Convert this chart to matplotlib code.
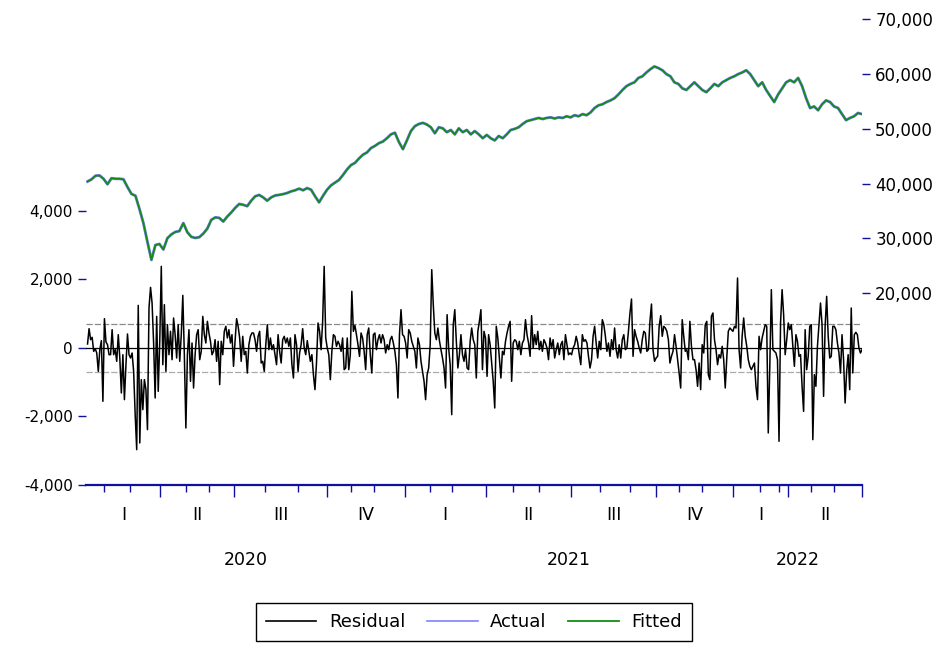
import numpy as np
import matplotlib
matplotlib.use("Agg")
import matplotlib.pyplot as plt
from matplotlib.lines import Line2D
from matplotlib.ticker import FuncFormatter, FixedLocator
from matplotlib.transforms import blended_transform_factory

plt.rcParams["font.family"] = ["DejaVu Sans"]
plt.rcParams["axes.unicode_minus"] = False

# ---------------------------------------------------------------- data
# Regression residuals, one value per trading day (left axis)
residual = [
    117, 564, 243, 311, -97, -20, -146, -681, -49, 214, -1557, 856, 175, 97, -195,
    -195, 535, -195, -49, -389, 389, -292, -1313, -195, -1508, -487, 409, -195, -292, -146,
    -681, -1946, -2968, 1245, -2773, -924, -1800, -924, -1216, -2384, 1168, 1771, 1314, 146, -1459,
    924, -1265, 195, 2384, -487, 1265, -681, 681, -195, 487, -341,
    876, 389, -292, 681, -389, 389, 1537, -195, -2335, -195, 535, -973, 146, -1168, -195,
    389, 535, -341, -97, 924, 389, 146, 778, 438, 195, -195, -97, 243, -389, 195,
    -1070, 195, -195, 487, 633, 292, 535, 146, 389, -535, 195, 856, 633, 292, -389,
    341, -195, -97, -730, 97, 341, 438, 438, 243, -97, 341,
    487, -438, -389, -681, 97, 681, -49, 292, -49, 97, -195, -487, 389, -97, -438,
    243, 341, 146, 292, 49, 292, -487, -876, 389, 97, -681, -146, 97, 564, 0,
    -195, 214, -97, -389, -195, -778, -1216, -438, 730, 487, -49, 778, 2384, 292, 0,
    -195, -924, -97, 389, 341, 49, 195, 97, -97, 292, -632,
    -584, 292, -632, -195, 1654, 487, 661, 389, 97, -243, 438, 292, -97, -632, 389,
    584, -195, -730, 389, 438, -49, 243, 389, 146, 389, 243, -146, 97, -49, 243,
    341, 146, -97, -487, -1459, 389, 1119, 389, 341, 146, -292, 535, 438, 195, 49,
    -97, -584, 292, 97, -389, -681, -973, -1508, -778, -584, 97,
    2287, 1265, 438, 243, 584, 214, -49, -292, -584, -1168, 973, 0, -487, -1946, 681,
    1119, 195, -584, -195, 389, -195, -389, -49, -584, -632, 195, 584, 243, 97, -876,
    487, 778, 1119, -632, 487, 292, -827, 389, 97, -438, -973, -1751, 633, 292, -292,
    -876, -97, -195, 195, 438, 633, 778, -973, 146, 243, 195,
    -49, 195, -195, 146, 243, 827, 389, 146, -243, 944, 0, 389, 97, 487, -49,
    195, -97, 243, 146, 0, -341, 292, 0, 243, -292, -49, 146, -195, 97, 195,
    -341, 389, 97, -195, -146, -195, 0, 97, 341, 146, -195, -487, 389, 195, 243,
    146, -243, -584, -341, 341, 632, 146, -292, 195, -49, 827,
    681, 341, -97, 146, -243, 243, -49, 584, -49, -292, 97, -292, 243, 389, -49,
    0, 487, 1022, 1430, -243, 535, 341, 195, 0, -146, 243, 487, 438, -97, -49,
    778, 1284, -49, -389, -292, -243, 632, 944, 341, 632, 584, 487, 243, -438, -243,
    -97, 389, 49, -341, -730, -1168, 827, 341, -97, -49, -341,
    778, 49, -341, -341, -632, -1119, -438, -1216, 97, -146, 681, 778, -778, -924, 924,
    1022, 243, -49, -487, -195, -292, 49, -341, -1168, -292, 487, 584, 535, 487, 632,
    584, 2043, -49, -584, 341, 876, 341, 49, -341, -535, -632, -535, -438, -1119, -1508,
    341, -49, 292, 487, 681, 632, -2481, -535, 1703, -49, -97,
    -146, -341, -2724, 730, 1703, 973, -195, 243, 730, 535, 681, 49, -535, 389, 195,
    -243, -195, -1119, -1849, 535, -632, -243, 632, 681, -2676, -778, -1119, 49, 681, 1314,
    681, -1411, 632, 1508, 341, -292, -243, 632, 632, 535, 146, -146, -730, 389, -341,
    -1605, -681, -195, -1216, 1168, -730, 389, 457, 389, 0, -146, -49,
]

# Index level, sampled every other trading day (right axis)
actual = [
    40400, 40800, 41450, 41500, 40900, 39900, 41000, 40900, 40900, 40800,
    39400, 38140, 37800, 35400, 32800, 29400, 26100, 28800, 29000, 28000,
    30050, 30750, 31200, 31350, 32800, 31150, 30300, 30100, 30240, 30900,
    31800, 33400, 33850, 33760, 33100, 34000, 34750, 35600, 36300, 36150,
    35900, 36900, 37700, 37950, 37500, 36900, 37500, 37850, 37960, 38100,
    38300, 38600, 38800, 39100, 38800, 39200, 38900, 37700, 36600, 37800,
    38900, 39700, 40200, 40700, 41600, 42600, 43400, 43800, 44600, 45300,
    45700, 46500, 46900, 47400, 47700, 48300, 49000, 49300, 47600, 46300,
    47900, 49600, 50500, 50900, 51100, 50800, 50300, 49200, 50300, 50100,
    49400, 49800, 49000, 50100, 49400, 49800, 49000, 49600, 49000, 48300,
    48900, 48300, 47900, 48700, 48300, 49000, 49800, 50000, 50300, 50900,
    51400, 51600, 51800, 52000, 51800, 52000, 52100, 51900, 52100, 52000,
    52300, 52100, 52500, 52300, 52700, 52500, 53000, 53800, 54300, 54500,
    54900, 55200, 55600, 56300, 57100, 57800, 58200, 58500, 59300, 59600,
    60300, 60900, 61400, 61100, 60700, 60000, 59600, 58500, 58200, 57400,
    57100, 57800, 58500, 57800, 57100, 56700, 57400, 58200, 57800, 58500,
    58900, 59300, 59600, 60000, 60300, 60700, 60000, 58900, 57800, 58500,
    57100, 56000, 54900, 56300, 57400, 58500, 58900, 58500, 59300, 57800,
    55600, 53800, 54100, 53400, 54500, 55200, 54900, 54100, 53800, 52700,
    51600, 52000, 52300, 52900, 52700,
]
fitted = [
    40400, 40800, 41450, 41500, 40900, 39900, 41000, 40900, 40900, 40800,
    39400, 38140, 37800, 35400, 32800, 29400, 26100, 28800, 29000, 28000,
    30050, 30750, 31200, 31350, 32800, 31150, 30300, 30100, 30240, 30900,
    31800, 33400, 33850, 33760, 33100, 34000, 34750, 35600, 36300, 36150,
    35900, 36900, 37700, 37950, 37500, 36900, 37500, 37850, 37960, 38100,
    38300, 38600, 38800, 39100, 38800, 39200, 38900, 37700, 36600, 37800,
    38900, 39700, 40200, 40700, 41600, 42600, 43400, 43800, 44600, 45300,
    45700, 46500, 46900, 47400, 47700, 48300, 49000, 49300, 47600, 46300,
    47900, 49600, 50500, 50900, 51100, 50800, 50300, 49200, 50300, 50100,
    49400, 49800, 49000, 50100, 49400, 49800, 49000, 49600, 49000, 48300,
    48900, 48300, 47900, 48700, 48300, 49000, 49800, 50000, 50300, 50900,
    51400, 51600, 51800, 52000, 51800, 52000, 52100, 51900, 52100, 52000,
    52300, 52100, 52500, 52300, 52700, 52500, 53000, 53800, 54300, 54500,
    54900, 55200, 55600, 56300, 57100, 57800, 58200, 58500, 59300, 59600,
    60300, 60900, 61400, 61100, 60700, 60000, 59600, 58500, 58200, 57400,
    57100, 57800, 58500, 57800, 57100, 56700, 57400, 58200, 57800, 58500,
    58900, 59300, 59600, 60000, 60300, 60700, 60000, 58900, 57800, 58500,
    57100, 56000, 54900, 56300, 57400, 58500, 58900, 58500, 59300, 57800,
    55600, 53800, 54100, 53400, 54500, 55200, 54900, 54100, 53800, 52700,
    51600, 52000, 52300, 52900, 52700,
]

std_error = 707

# Calendar layout in observation units
month_starts = [11.0, 27.5, 63.9, 78.8, 115.8, 136.7, 171.4, 186.3, 223.0, 237.5,
                277.2, 293.8, 333.5, 353.3, 384.7, 400.2, 437.6, 449.8, 470.7, 485.6]
quarter_bounds = [0, 47.3, 95.3, 155.8, 206.4, 259.0, 314.6, 370.2, 420.1, 455.8, 504]
quarter_labels = ["I", "II", "III", "IV", "I", "II", "III", "IV", "I", "II"]
year_bounds = [0, 206.4, 420.1, 504]
year_labels = ["2020", "2021", "2022"]

left_ticks = [-4000, -2000, 0, 2000, 4000]
right_ticks = [20000, 30000, 40000, 50000, 60000, 70000]

# ---------------------------------------------------------------- styles
AXIS_BLUE = "#1010a0"
RES_COLOR = "black"
ACT_COLOR = "#8080ff"
FIT_COLOR = "#138c13"

W, H = 948, 646
fig = plt.figure(figsize=(W / 100, H / 100), dpi=100)
ax = fig.add_axes([86 / W, 1 - 485 / H, 776 / W, 467 / H])
ax2 = ax.twinx()

obs = np.arange(len(residual))
obs_level = np.linspace(0, len(residual) - 1, len(actual))

# residual panel
ax.axhline(0, color="black", lw=0.9, zorder=2)
ax.axhline(std_error, color="#8a8a8a", lw=0.9, dashes=(5, 1.6), zorder=1)
ax.axhline(-std_error, color="#ababab", lw=0.9, dashes=(5, 1.6), zorder=1)
ax.plot(obs, residual, color=RES_COLOR, lw=1.1, zorder=3)

# actual / fitted on the right scale
ax2.plot(obs_level, actual, color=ACT_COLOR, lw=2.1, zorder=2)
ax2.plot(obs_level, fitted, color=FIT_COLOR, lw=1.3, zorder=3)

ax.set_xlim(-1, quarter_bounds[-1])
ax.set_ylim(-4000, 9635)
ax2.set_ylim(-14982, 70237)

for a in (ax, ax2):
    for side in ("top", "left", "right"):
        a.spines[side].set_visible(False)
ax2.spines["bottom"].set_visible(False)
ax.spines["bottom"].set_color(AXIS_BLUE)
ax.spines["bottom"].set_linewidth(1.6)

fmt = FuncFormatter(lambda v, p: f"{v:,.0f}")
ax.yaxis.set_major_locator(FixedLocator(left_ticks))
ax.yaxis.set_major_formatter(fmt)
ax2.yaxis.set_major_locator(FixedLocator(right_ticks))
ax2.yaxis.set_major_formatter(fmt)
ax.tick_params(axis="y", direction="out", length=5.5, width=1.0, color=AXIS_BLUE,
               labelsize=11, pad=4)
ax2.tick_params(axis="y", direction="out", length=5.5, width=1.0, color=AXIS_BLUE,
                labelsize=12, pad=4)

# date axis: quarter and month ticks, labels as text
ax.xaxis.set_major_locator(FixedLocator(quarter_bounds[1:]))
ax.xaxis.set_minor_locator(FixedLocator(month_starts))
ax.tick_params(axis="x", which="major", direction="out", length=8.5, width=1.0,
               color=AXIS_BLUE, labelbottom=False)
ax.tick_params(axis="x", which="minor", direction="out", length=5, width=1.0,
               color=AXIS_BLUE, labelbottom=False)

tr = blended_transform_factory(ax.transData, ax.transAxes)
for lo, hi, lab in zip(quarter_bounds[:-1], quarter_bounds[1:], quarter_labels):
    ax.text((lo + hi) / 2, -30 / 467, lab, transform=tr, ha="center", va="center",
            fontsize=12.5)
for lo, hi, lab in zip(year_bounds[:-1], year_bounds[1:], year_labels):
    ax.text((lo + hi) / 2, -75 / 467, lab, transform=tr, ha="center", va="center",
            fontsize=12.5)

handles = [Line2D([], [], color=RES_COLOR, lw=1.2),
           Line2D([], [], color=ACT_COLOR, lw=1.2),
           Line2D([], [], color=FIT_COLOR, lw=1.3)]
leg = fig.legend(handles, ["Residual", "Actual", "Fitted"], loc="lower center",
                 bbox_to_anchor=(0.5, 5 / H), ncol=3, fontsize=13, frameon=True,
                 fancybox=False, edgecolor="black", framealpha=1,
                 handlelength=2.8, handletextpad=0.7, columnspacing=1.2,
                 borderpad=0.55, borderaxespad=0)
leg.get_frame().set_linewidth(1.0)

fig.savefig("out.png", dpi=100)
